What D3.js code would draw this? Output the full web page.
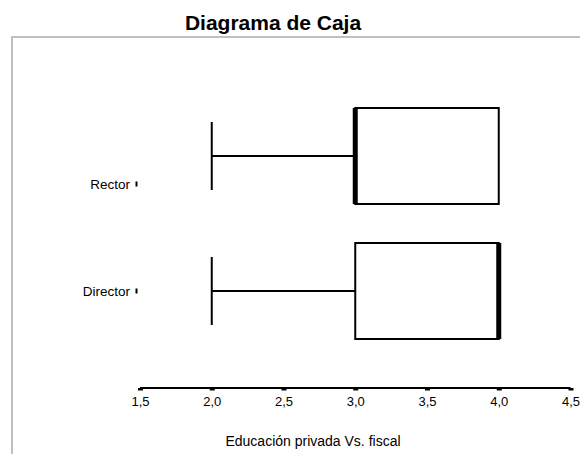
<!DOCTYPE html>
<html>
<head>
<meta charset="utf-8">
<script src="https://cdn.jsdelivr.net/npm/d3@7"></script>
<style>
  body { margin: 0; background: #fff; }
  text { font-family: "Liberation Sans", Arial, sans-serif; }
</style>
</head>
<body>
<svg width="580" height="454"></svg>
<script>
// box plot data, one entry per group
var groups   = ["Rector", "Director"];
var whiskLo  = [2.0, 2.0];
var q1       = [3.0, 3.0];
var median   = [3.0, 4.0];
var q3       = [4.0, 4.0];
var whiskHi  = [4.0, 4.0];
var xTicks   = [1.5, 2.0, 2.5, 3.0, 3.5, 4.0, 4.5];

var svg = d3.select("svg");

// gray frame (top + left)
svg.append("path")
    .attr("d", "M12,455 L12,37 L581,37")
    .attr("fill", "none").attr("stroke", "#c0c0c0").attr("stroke-width", 2);

svg.append("text")
    .attr("x", 273).attr("y", 30)
    .attr("text-anchor", "middle")
    .attr("font-size", 21).attr("font-weight", "bold")
    .text("Diagrama de Caja");

var x = d3.scaleLinear().domain([1.5, 4.5]).range([140, 570.5]);
var yBox = d3.scalePoint().domain(groups).range([156, 291]);   // box centres
var yLab = d3.scalePoint().domain(groups).range([184, 291]);   // label positions
var half = 48, capHalf = 34;

// x axis
var xAxis = d3.axisBottom(x)
    .tickValues(xTicks).tickSize(2.5).tickPadding(6)
    .tickFormat(d => d3.format(".1f")(d).replace(".", ","));
var gx = svg.append("g").attr("transform", "translate(0,388)").call(xAxis);
gx.select(".domain").attr("stroke", "#000").attr("stroke-width", 2).attr("d", "M140,0H570.5");
gx.selectAll(".tick line").attr("stroke", "#000").attr("stroke-width", 5);
gx.selectAll(".tick text").attr("font-size", 13).attr("fill", "#000")
    .attr("font-family", "Liberation Sans, Arial, sans-serif");

svg.append("text")
    .attr("x", 313).attr("y", 446)
    .attr("text-anchor", "middle")
    .attr("font-size", 14)
    .text("Educación privada Vs. fiscal");

// category labels
var gy = svg.append("g");
gy.selectAll("text").data(groups).enter().append("text")
    .attr("x", 130).attr("y", d => yLab(d) + 4.5)
    .attr("text-anchor", "end").attr("font-size", 13.5)
    .text(d => d);
gy.selectAll("line").data(groups).enter().append("line")
    .attr("x1", 136.5).attr("x2", 136.5)
    .attr("y1", d => yLab(d) - 2.5).attr("y2", d => yLab(d) + 2.5)
    .attr("stroke", "#000").attr("stroke-width", 2);

// boxes
var g = svg.append("g").selectAll("g").data(groups).enter().append("g");

g.append("line")
    .attr("x1", (d, i) => x(whiskLo[i])).attr("x2", (d, i) => x(q1[i]))
    .attr("y1", d => yBox(d)).attr("y2", d => yBox(d))
    .attr("stroke", "#000").attr("stroke-width", 2);
g.append("line")
    .attr("x1", (d, i) => x(q3[i])).attr("x2", (d, i) => x(whiskHi[i]))
    .attr("y1", d => yBox(d)).attr("y2", d => yBox(d))
    .attr("stroke", "#000").attr("stroke-width", 2);
g.append("line")
    .attr("x1", (d, i) => x(whiskLo[i])).attr("x2", (d, i) => x(whiskLo[i]))
    .attr("y1", d => yBox(d) - capHalf).attr("y2", d => yBox(d) + capHalf)
    .attr("stroke", "#000").attr("stroke-width", 2);

g.append("rect")
    .attr("x", (d, i) => x(q1[i])).attr("width", (d, i) => x(q3[i]) - x(q1[i]))
    .attr("y", d => yBox(d) - half).attr("height", half * 2)
    .attr("fill", "#fff").attr("stroke", "#000").attr("stroke-width", 2);

g.append("line")
    .attr("x1", (d, i) => x(median[i])).attr("x2", (d, i) => x(median[i]))
    .attr("y1", d => yBox(d) - half).attr("y2", d => yBox(d) + half)
    .attr("stroke", "#000").attr("stroke-width", 5);
</script>
</body>
</html>
